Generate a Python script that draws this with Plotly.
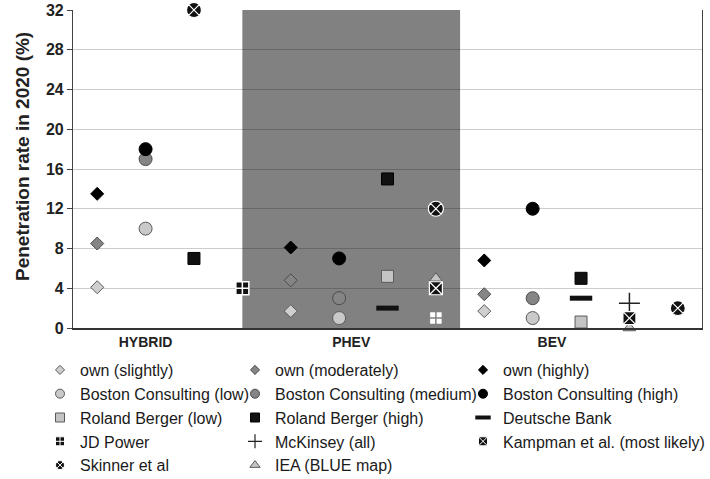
import plotly.graph_objects as go

# ---------------- data ----------------
categories = ["HYBRID", "PHEV", "BEV"]
category_pos = [2, 6.25, 10.4]

own_slightly_x = [1, 5, 9]
own_slightly_y = [4.1, 1.7, 1.7]
own_moderately_x = [1, 5, 9]
own_moderately_y = [8.5, 4.8, 3.4]
own_highly_x = [1, 5, 9]
own_highly_y = [13.5, 8.1, 6.8]

bcg_low_x = [2, 6, 10]
bcg_low_y = [10, 1, 1]
bcg_medium_x = [2, 6, 10]
bcg_medium_y = [17, 3, 3]
bcg_high_x = [2, 6, 10]
bcg_high_y = [18, 7, 12]

rb_low_x = [7, 11]
rb_low_y = [5.2, 0.6]
rb_high_x = [3, 7, 11]
rb_high_y = [7, 15, 5]

db_x = [7, 11]
db_y = [2, 3]

jd_x = [4, 8]
jd_y = [4, 1]

mck_x = [12]
mck_y = [2.5]

kampman_x = [8, 12]
kampman_y = [4, 1]

skinner_x = [3, 8, 13]
skinner_y = [32, 12, 2]

iea_x = [8, 12]
iea_y = [5, 0]

phev_band = [4, 8.5]
y_ticks = [0, 4, 8, 12, 16, 20, 24, 28, 32]

# ---------------- styles ----------------
LIGHT = "#cfcfcf"
MID = "#858585"
EDGE = "#5a5a5a"
BAND = "#818181"

series = [
    # name, x, y, symbol, size, fill, line color, line width, legend
    ("own (slightly)", own_slightly_x, own_slightly_y, "diamond", 10, LIGHT, EDGE, 1, "legend"),
    ("own (moderately)", own_moderately_x, own_moderately_y, "diamond", 10, MID, "#4a4a4a", 1, "legend2"),
    ("own (highly)", own_highly_x, own_highly_y, "diamond", 10, "black", "black", 1, "legend3"),
    ("Boston Consulting (low)", bcg_low_x, bcg_low_y, "circle", 13, "#c9c9c9", EDGE, 1, "legend"),
    ("Boston Consulting (medium)", bcg_medium_x, bcg_medium_y, "circle", 13, MID, "#4a4a4a", 1, "legend2"),
    ("Boston Consulting (high)", bcg_high_x, bcg_high_y, "circle", 13, "black", "black", 1, "legend3"),
    ("Roland Berger (low)", rb_low_x, rb_low_y, "square", 12, "#c4c4c4", EDGE, 1, "legend"),
    ("Roland Berger (high)", rb_high_x, rb_high_y, "square", 12, "#111111", "black", 1, "legend2"),
    ("Deutsche Bank", db_x, db_y, "line-ew", 16, "black", "#111111", 5, "legend3"),
    ("JD Power", jd_x, jd_y, "square-cross", 13, ["#111111", "white"], ["white", BAND], 1.5, "legend"),
    ("McKinsey (all)", mck_x, mck_y, "cross-thin", 15, "black", "#222222", 1.5, "legend2"),
    ("IEA (BLUE map)", iea_x, iea_y, "triangle-up", 11, "#c4c4c4", EDGE, 1, "legend2"),
    ("Kampman et al. (most likely)", kampman_x, kampman_y, "square-x", 13, "#111111", "white", 1.2, "legend3"),
    ("Skinner et al", skinner_x, skinner_y, "circle-x", 15, "#111111", "white", 1.2, "legend"),
]

legend_order = [
    "own (slightly)", "own (moderately)", "own (highly)",
    "Boston Consulting (low)", "Boston Consulting (medium)", "Boston Consulting (high)",
    "Roland Berger (low)", "Roland Berger (high)", "Deutsche Bank",
    "JD Power", "McKinsey (all)", "Kampman et al. (most likely)",
    "Skinner et al", "IEA (BLUE map)",
]

fig = go.Figure()

# data traces
for name, xs, ys, sym, size, fill, lc, lw, leg in series:
    fig.add_trace(go.Scatter(
        x=xs, y=ys, mode="markers", name=name, showlegend=False,
        cliponaxis=False,
        marker=dict(symbol=sym, size=size, color=fill,
                    line=dict(color=lc, width=lw)),
    ))

# legend-only entries (small symbols like the reference)
lookup = {s[0]: s for s in series}
for name in legend_order:
    _, xs, ys, sym, size, fill, lc, lw, leg = lookup[name]
    f = fill[0] if isinstance(fill, list) else fill
    l = lc[0] if isinstance(lc, list) else lc
    lsize = 7 if sym in ("diamond",) else 9
    if sym == "line-ew":
        lsize = 11
        lwl = 4
    elif sym == "cross-thin":
        lsize = 10
        lwl = 1.2
    else:
        lwl = 1
    fig.add_trace(go.Scatter(
        x=[None], y=[None], mode="markers", name=name, legend=leg,
        marker=dict(symbol=sym, size=lsize, color=f, line=dict(color=l, width=lwl)),
    ))

fig.add_shape(type="rect", xref="x", yref="paper", x0=phev_band[0], x1=phev_band[1],
              y0=0, y1=1, fillcolor=BAND, line=dict(width=0), layer="below")

W, H = 710, 479
PL, PR, PT, PB = 73, 702, 10, 328

legend_font = dict(family="Liberation Sans, Arial, sans-serif", size=16, color="#1a1a1a")
common_leg = dict(xref="container", yref="container", yanchor="top", xanchor="left",
                  bgcolor="rgba(0,0,0,0)", font=legend_font, itemsizing="trace")
top = 1 - 353 / H

fig.update_layout(
    width=W, height=H, autosize=False,
    margin=dict(l=PL, r=W - PR, t=PT, b=H - PB, autoexpand=False),
    paper_bgcolor="white", plot_bgcolor="white",
    showlegend=True,
    legend=dict(x=40 / W, y=top, **common_leg),
    legend2=dict(x=235 / W, y=top, **common_leg),
    legend3=dict(x=463 / W, y=top, **common_leg),
    xaxis=dict(range=[0.5, 13.5], tickvals=category_pos,
               ticktext=["<b>%s</b>" % c for c in categories],
               showgrid=False, zeroline=False, showline=True, linecolor="#333333",
               linewidth=1.5, ticks="",
               tickfont=dict(family="Liberation Sans, Arial, sans-serif", size=14, color="#222222")),
    yaxis=dict(range=[0, 32], tickvals=y_ticks,
               ticktext=["<b>%d</b>" % v for v in y_ticks], showgrid=True,
               gridcolor="rgba(0,0,0,0.2)", gridwidth=1, zeroline=False,
               showline=True, linecolor="#444444", linewidth=1.2, mirror=True,
               ticks="outside", ticklen=5, tickcolor="#444444",
               tickfont=dict(family="Liberation Sans, Arial, sans-serif", size=16, color="#222222")),
    annotations=[dict(text="<b>Penetration rate in 2020 (%)</b>", xref="paper", yref="paper",
                      x=(22 - PL) / (PR - PL), y=(PB - 157) / (PB - PT), textangle=-90,
                      showarrow=False, xanchor="center", yanchor="middle",
                      font=dict(family="Liberation Sans, Arial, sans-serif", size=19, color="#222222"))],
)

fig.write_html("out.html", config={"displayModeBar": False},
               post_script="document.body.style.margin='0px';")
